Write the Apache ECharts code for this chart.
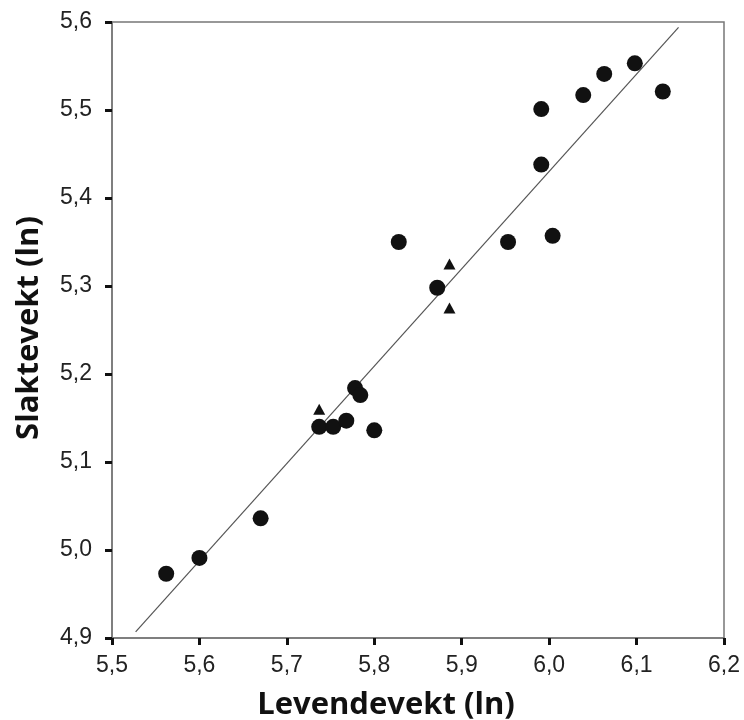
<!DOCTYPE html>
<html><head><meta charset="utf-8">
<script src="https://cdn.jsdelivr.net/npm/echarts@6/dist/echarts.min.js"></script>
<style>html,body{margin:0;padding:0;background:#fff}#c{width:744px;height:720px}</style>
</head><body><div id="c"></div>
<script>
// Circles (levendevekt ln, slaktevekt ln)
const circleX = [5.562, 5.600, 5.670, 5.737, 5.753, 5.768, 5.778, 5.784, 5.800, 5.828, 5.872, 5.953, 5.991, 5.991, 6.004, 6.039, 6.063, 6.098, 6.130];
const circleY = [4.973, 4.991, 5.036, 5.140, 5.140, 5.147, 5.184, 5.176, 5.136, 5.350, 5.298, 5.350, 5.438, 5.501, 5.357, 5.517, 5.541, 5.553, 5.521];
// Triangles
const triX = [5.737, 5.886, 5.886];
const triY = [5.160, 5.325, 5.275];
// Regression line endpoints
const lineX = [5.527, 6.148];
const lineY = [4.907, 5.594];
// Axis ticks
const xTicks = [5.5, 5.6, 5.7, 5.8, 5.9, 6.0, 6.1, 6.2];
const yTicks = [4.9, 5.0, 5.1, 5.2, 5.3, 5.4, 5.5, 5.6];
const xTitle = 'Levendevekt (ln)';
const yTitle = 'Slaktevekt (ln)';

const fmt = v => v.toFixed(1).replace('.', ',');
const chart = echarts.init(document.getElementById('c'));
const labelStyle = {color: '#222', fontSize: 23, fontFamily: '"Liberation Sans", Arial, sans-serif', formatter: fmt};
const axisCommon = {
  type: 'value',
  axisLine: {show: true, onZero: false, lineStyle: {color: '#777', width: 1.5}},
  axisTick: {show: true, inside: false, length: 7, lineStyle: {color: '#111', width: 3}},
  splitLine: {show: false}
};
chart.setOption({
  animation: false,
  backgroundColor: '#fff',
  grid: {left: 112, top: 22, width: 612, height: 616, show: true, borderColor: '#777', borderWidth: 1.5, backgroundColor: 'transparent'},
  xAxis: Object.assign({}, axisCommon, {
    min: xTicks[0], max: xTicks[xTicks.length - 1], interval: 0.1,
    axisLabel: Object.assign({}, labelStyle, {margin: 16})
  }),
  yAxis: Object.assign({}, axisCommon, {
    min: yTicks[0], max: yTicks[yTicks.length - 1], interval: 0.1,
    axisLabel: Object.assign({}, labelStyle, {margin: 20})
  }),
  graphic: [{
    type: 'text', x: 386, y: 705,
    style: {text: xTitle, align: 'center', verticalAlign: 'middle', textAlign: 'center', textVerticalAlign: 'middle', fill: '#111', font: 'bold 31px "Open Sans", sans-serif'}
  }, {
    type: 'text', x: 29, y: 328, rotation: Math.PI / 2,
    style: {text: yTitle, align: 'center', verticalAlign: 'middle', textAlign: 'center', textVerticalAlign: 'middle', fill: '#111', font: 'bold 31px "Open Sans", sans-serif'}
  }],
  series: [
    {type: 'line', data: lineX.map((x, i) => [x, lineY[i]]), symbol: 'none', lineStyle: {color: '#555', width: 1.2}, z: 1},
    {type: 'scatter', data: circleX.map((x, i) => [x, circleY[i]]), symbol: 'circle', symbolSize: 16, itemStyle: {color: '#111', opacity: 1}, z: 3},
    {type: 'scatter', data: triX.map((x, i) => [x, triY[i]]), symbol: 'triangle', symbolSize: [12, 11], itemStyle: {color: '#111', opacity: 1}, z: 3}
  ]
});
</script></body></html>
